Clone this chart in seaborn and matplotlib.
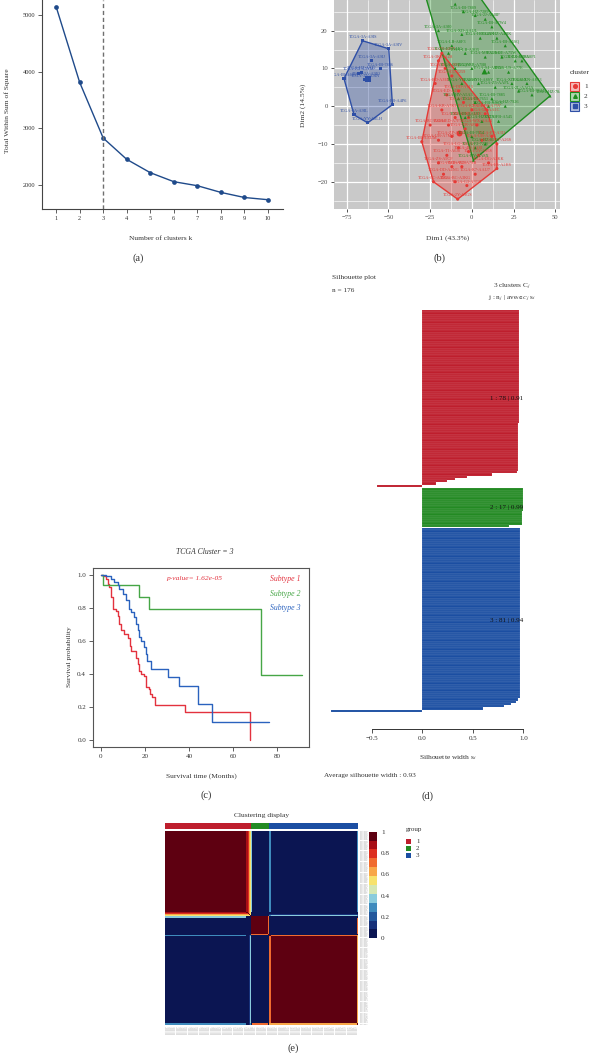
import numpy as np
import pandas as pd
import matplotlib
matplotlib.use("Agg")
import matplotlib.pyplot as plt
import seaborn as sns
from matplotlib.colors import ListedColormap
from matplotlib.patches import Polygon, Rectangle
from matplotlib.lines import Line2D

# ---------------- data ----------------
# (a) elbow
k_values = [1, 2, 3, 4, 5, 6, 7, 8, 9, 10]
wss_values = [5147, 3812, 2829, 2453, 2218, 2059, 1988, 1870, 1780, 1741]

# (b) PCA cluster plot
red_xy = [(-18, 14), (-20, 12), (-16, 10), (-22, 6), (-12, 8), (-8, 4), (-15, 3), (-5, 1),
          (0, -1), (-18, -1), (-10, -3), (-25, -5), (-30, -9.4), (-20, -9), (-12, -8),
          (-4, -6), (3, -5), (8, -2), (9, -1), (12, -8), (15, -10), (15, -16.5), (10, -15),
          (4, -13), (-2, -12), (-8, -11), (-15, -13), (-20, -15), (-23, -20), (-17, -18),
          (-10, -20), (-8.5, -24.6), (-3, -21), (2, -18), (-12, -16), (-6, -16), (6, -9),
          (-2, -3), (-14, -5)]
red_ids = ["TCGA-2Y-A9H1", "TCGA-3K-AAZ8", "TCGA-BC-A10Q", "TCGA-BD-A3EP", "TCGA-CC-5259",
           "TCGA-DD-A113", "TCGA-ED-A459", "TCGA-G3-A25T", "TCGA-K7-A5RF", "TCGA-KR-A7K2",
           "TCGA-MI-A75C", "TCGA-RC-A6M4", "TCGA-IB-AAUM", "TCGA-UB-A7MB", "TCGA-ZP-A9D4",
           "TCGA-XR-A8TE", "TCGA-WX-AA44", "TCGA-5R-AA1C", "TCGA-O8-A75V", "TCGA-FV-A3I1",
           "TCGA-EP-A26S", "TCGA-ES-A2HS", "TCGA-DG-A2KK", "TCGA-2V-A95S", "TCGA-4R-AA8I",
           "TCGA-LG-A6GG", "TCGA-T1-A6J8", "TCGA-ZS-A9CF", "TCGA-CC-A3MA", "TCGA-DD-A4NG",
           "TCGA-BC-A3KG", "TCGA-2Y-A9GS", "TCGA-G3-A3CH", "TCGA-K7-AAU7", "TCGA-MR-A520",
           "TCGA-RC-A7SB", "TCGA-UB-AA0V", "TCGA-XR-A8TC", "TCGA-ED-A7PX"]
green_xy = [(-31, 34), (-3.6, 34), (-10, 27), (-5, 25), (2, 24), (8, 23), (12, 21), (-20, 20),
            (-6, 19), (5, 18), (15, 18), (20, 16), (-14, 14), (-4, 14), (8, 13), (18, 13),
            (26, 12), (-10, 10), (0, 10), (10, 9), (22, 9), (33, 6), (46.8, 2.7), (-6, 6),
            (4, 6), (14, 5), (28, 4), (-8, 2), (2, 1), (10, 0), (20, 0), (-4, -3), (6, -4),
            (16, -4), (0, -8), (8, -10), (0.9, -14.3), (2, -11), (12, 2), (24, 6), (30, 12),
            (36, 3), (-12, 16)]
green_ids = ["TCGA-HZ-7925", "TCGA-HZ-8003", "TCGA-3B-A9HZ", "TCGA-IB-7889", "TCGA-HZ-7289",
             "TCGA-2J-AABP", "TCGA-IB-A7W4", "TCGA-3A-A9J0", "TCGA-XD-AAUL", "TCGA-H6-A45N",
             "TCGA-HZ-A4BK", "TCGA-IB-A5SQ", "TCGA-F2-A44G", "TCGA-LB-A9Q5", "TCGA-M8-A5N4",
             "TCGA-OE-A75W", "TCGA-PZ-A5RE", "TCGA-Q3-A5QY", "TCGA-RB-A7B8", "TCGA-S4-A8RM",
             "TCGA-US-A77E", "TCGA-XN-A8T3", "TCGA-HZ-7846", "TCGA-YB-A89D", "TCGA-YH-A8SY",
             "TCGA-Z5-AAPL", "TCGA-2L-AAQA", "TCGA-HV-A5A3", "TCGA-IB-7651", "TCGA-FB-AAQ1",
             "TCGA-HZ-7926", "TCGA-IB-AAUO", "TCGA-HZ-A77O", "TCGA-FB-A545", "TCGA-IB-7654",
             "TCGA-HZ-8519", "TCGA-HV-AA8X", "TCGA-F2-7276", "TCGA-IB-7885", "TCGA-XD-AAUI",
             "TCGA-HZ-A8P1", "TCGA-IB-7644", "TCGA-LB-A8F3"]
blue_xy = [(-65.4, 17.3), (-49.8, 15.2), (-47.6, 0.4), (-62.4, -4.4), (-70.6, -2.3),
           (-76.6, 7.3), (-68, 8.7), (-63, 7.6), (-64, 7.0), (-66, 9), (-60, 12), (-55, 10)]
blue_ids = ["TCGA-3A-A9IS", "TCGA-3A-A9IV", "TCGA-FB-A4P6", "TCGA-YY-A8LH", "TCGA-3A-A9IL",
            "TCGA-IB-A6UG", "TCGA-FB-A5VM", "TCGA-3A-A9IO", "TCGA-3A-A9IN", "TCGA-HZ-A9TJ",
            "TCGA-3A-A9IJ", "TCGA-IB-7886"]

# (c) Kaplan-Meier curves
km_t1 = [0, 1.1, 2.3, 3.0, 3.8, 4.6, 5.3, 6.9, 7.6, 8.4, 9.1, 10.7, 12.2, 13.0, 13.7, 16.0,
         16.8, 17.5, 18.3, 19.8, 20.3, 21.8, 22.4, 23.3, 24.4, 38.0, 68.0]
km_s1 = [1.0, 0.99, 0.976, 0.945, 0.925, 0.866, 0.79, 0.78, 0.75, 0.70, 0.667, 0.64, 0.616,
         0.57, 0.537, 0.50, 0.46, 0.42, 0.40, 0.39, 0.32, 0.31, 0.28, 0.26, 0.214, 0.172, 0.0]
km_t2 = [0, 1.0, 17.2, 21.8, 72.8, 91.4]
km_s2 = [1.0, 0.939, 0.867, 0.795, 0.397, 0.397]
km_t3 = [0, 2.3, 4.6, 6.1, 7.6, 8.4, 9.9, 11.4, 12.6, 13.7, 15.2, 16.0, 16.8, 17.5, 18.3,
         19.4, 20.3, 21.0, 22.9, 30.5, 35.5, 44.2, 50.3, 76.2]
km_s3 = [1.0, 0.99, 0.976, 0.955, 0.94, 0.915, 0.885, 0.845, 0.79, 0.774, 0.743, 0.70, 0.663,
         0.626, 0.602, 0.566, 0.521, 0.48, 0.43, 0.384, 0.33, 0.22, 0.11, 0.11]

# (d) silhouette widths (run-length: value, count)
sil1_vals = [0.96, 0.955, 0.95, 0.94, 0.69, 0.44, 0.32, 0.24, 0.14, -0.45]
sil1_cnts = [25, 25, 21, 1, 1, 1, 1, 1, 1, 1]
sil2_vals = [0.995, 0.99, 0.86]
sil2_cnts = [10, 6, 1]
sil3_vals = [0.97, 0.965, 0.95, 0.93, 0.88, 0.81, 0.60, -0.90]
sil3_cnts = [40, 35, 1, 1, 1, 1, 1, 1]
sil_labels = ["1 : 78 | 0.91", "2 : 17 | 0.99", "3 : 81 | 0.94"]

# (e) consensus matrix
cluster_sizes = [78, 17, 81]
edge_idx = [74, 75, 76, 77, 78, 94, 95, 175]
edge_c1 = [0.86, 0.76, 0.62, 0.52, 0.35, 0.05, 0.32, 0.30]
edge_c2 = [0.0, 0.0, 0.0, 0.05, 1.0, 0.72, 0.0, 0.72]
edge_c3 = [0.0, 0.0, 0.10, 0.35, 0.0, 0.0, 0.68, 0.62]
sample_ids = ["TCGA-S%03d" % i for i in range(sum(cluster_sizes))]
cb_ticks = [0, 0.2, 0.4, 0.6, 0.8, 1]
cb_ticklabels = ["0", "0.2", "0.4", "0.6", "0.8", "1"]
consensus_colors = ['#0b1552', '#17317a', '#24589c', '#3f8bbd', '#8acbdc', '#d5e7b3',
                    '#f7e26c', '#f8a748', '#f06b2f', '#dc2f1f', '#a80e16', '#5e0011']

# ---------------- style ----------------
sns.set_style("white")
plt.rcParams['font.family'] = ['Liberation Serif', 'DejaVu Serif']
plt.rcParams['mathtext.fontset'] = 'stix'
plt.rcParams['axes.unicode_minus'] = True

W, H = 591, 1053
fig = plt.figure(figsize=(W / 100, H / 100), dpi=100)


def rect(x0, y0, x1, y1):
    return [x0 / W, 1 - y1 / H, (x1 - x0) / W, (y1 - y0) / H]


def ftext(x, y, s, **kw):
    kw.setdefault('ha', 'center')
    kw.setdefault('va', 'center')
    fig.text(x / W, 1 - y / H, s, **kw)


TXT = '#333333'

# ---------------- (a) ----------------
axa = fig.add_axes(rect(42, 0, 283, 209))
sns.lineplot(x=k_values, y=wss_values, ax=axa, color='#1F4A8A', lw=1.0, marker='o',
             markersize=3.4, markeredgewidth=0)
axa.axvline(3, color='#6f6f6f', ls=(0, (3, 2)), lw=1.0)
axa.set_xlim(0.4, 10.64)
axa.set_ylim(1577, 5265)
axa.set_xticks(k_values)
axa.set_yticks([2000, 3000, 4000, 5000])
for s in ['top', 'right']:
    axa.spines[s].set_visible(False)
for s in ['left', 'bottom']:
    axa.spines[s].set_color('#444444')
    axa.spines[s].set_linewidth(0.8)
axa.tick_params(direction='out', length=3, width=0.6, color='#444444', labelsize=4.6,
                labelcolor=TXT, pad=2, bottom=True, left=True)
axa.set_xlabel('')
axa.set_ylabel('')
ftext(7, 111, 'Total Within Sum of Square', rotation=90, fontsize=5.4, color=TXT)
ftext(161, 238, 'Number of clusters k', fontsize=5.4, color=TXT)
ftext(138, 258, '(a)', fontsize=7.5, color=TXT)

# ---------------- (b) ----------------
cl_colors = {'1': '#E53A36', '2': '#1E8C1E', '3': '#2E4FA6'}
axb = fig.add_axes(rect(334, 0, 560, 209))
axb.set_facecolor('#C9C9C9')
YLIM_B = (-27.2, 28.1)
axb.set_xlim(-82.6, 52.8)
axb.set_ylim(*YLIM_B)
axb.set_xticks([-75, -50, -25, 0, 25, 50])
axb.set_yticks([-20, -10, 0, 10, 20])
axb.set_xticks([-62.5, -37.5, -12.5, 12.5, 37.5], minor=True)
axb.set_yticks([-25, -15, -5, 5, 15, 25], minor=True)
axb.grid(which='major', color='white', lw=0.9)
axb.grid(which='minor', color='white', lw=0.45)
axb.set_axisbelow(True)
for s in axb.spines.values():
    s.set_visible(False)
axb.tick_params(which='major', direction='out', length=2.5, width=0.6, color='#333333',
                labelsize=4.8, labelcolor='#4D4D4D', pad=2, bottom=True, left=True)
axb.tick_params(which='minor', length=0)


def hull(points):
    pts = sorted(set(points))
    def cross(o, a, b):
        return (a[0] - o[0]) * (b[1] - o[1]) - (a[1] - o[1]) * (b[0] - o[0])
    lower, upper = [], []
    for p in pts:
        while len(lower) >= 2 and cross(lower[-2], lower[-1], p) <= 0:
            lower.pop()
        lower.append(p)
    for p in reversed(pts):
        while len(upper) >= 2 and cross(upper[-2], upper[-1], p) <= 0:
            upper.pop()
        upper.append(p)
    return lower[:-1] + upper[:-1]


pca_rows = []
for cl, xy, ids in [('1', red_xy, red_ids), ('2', green_xy, green_ids), ('3', blue_xy, blue_ids)]:
    for (x, y), name in zip(xy, ids):
        pca_rows.append({'Dim1': x, 'Dim2': y, 'cluster': cl, 'id': name})
pca = pd.DataFrame(pca_rows)

for cl in ['1', '2', '3']:
    sub = pca[pca.cluster == cl]
    hv = hull(list(zip(sub.Dim1, sub.Dim2)))
    axb.add_patch(Polygon(hv, closed=True, facecolor=cl_colors[cl], alpha=0.35, edgecolor='none', zorder=2))
    axb.add_patch(Polygon(hv, closed=True, facecolor='none', edgecolor=cl_colors[cl], lw=1.0, zorder=3))

sns.scatterplot(data=pca, x='Dim1', y='Dim2', hue='cluster', style='cluster',
                markers={'1': 'o', '2': '^', '3': 's'}, palette=cl_colors, s=5,
                linewidth=0, ax=axb, legend=False, zorder=4)
cent = pca.groupby('cluster')[['Dim1', 'Dim2']].mean()
for cl, mk in zip(['1', '2', '3'], ['o', '^', 's']):
    axb.scatter(cent.loc[cl, 'Dim1'], cent.loc[cl, 'Dim2'], marker=mk, s=18,
                color=cl_colors[cl], zorder=5, linewidth=0)
for _, r in pca.iterrows():
    if r.Dim2 + 2.0 > YLIM_B[1]:
        continue
    axb.text(r.Dim1, r.Dim2 + 0.5, r.id, fontsize=3.1, color=cl_colors[r.cluster],
             ha='center', va='bottom', zorder=6, clip_on=True)
axb.set_xlabel('')
axb.set_ylabel('')
ftext(303, 105, 'Dim2 (14.5%)', rotation=90, fontsize=5.4, color=TXT)
ftext(448, 238, 'Dim1 (43.3%)', fontsize=5.4, color=TXT)
ftext(439, 258, '(b)', fontsize=7.5, color=TXT)
# legend
ftext(570, 72, 'cluster', ha='left', fontsize=5.4, color=TXT)
for i, (cl, mk) in enumerate(zip(['1', '2', '3'], ['o', '^', 's'])):
    yc = 86 + i * 10
    fig.add_artist(Rectangle((570 / W, 1 - (yc + 4.5) / H), 9 / W, 9 / H,
                             transform=fig.transFigure, facecolor=cl_colors[cl], alpha=0.35,
                             edgecolor='none'))
    fig.add_artist(Rectangle((570 / W, 1 - (yc + 4.5) / H), 9 / W, 9 / H,
                             transform=fig.transFigure, facecolor='none',
                             edgecolor=cl_colors[cl], lw=0.8))
    fig.add_artist(Line2D([574.5 / W], [1 - yc / H], marker=mk, color=cl_colors[cl],
                          markersize=2.6, transform=fig.transFigure, lw=0))
    ftext(584, yc, cl, ha='left', fontsize=5.2, color=TXT)

# ---------------- (c) ----------------
km_cols = ['#E3323E', '#46A646', '#2A62BE']
axc = fig.add_axes(rect(93, 568, 309, 747))
for t, s_, c in [(km_t1, km_s1, km_cols[0]), (km_t2, km_s2, km_cols[1]), (km_t3, km_s3, km_cols[2])]:
    sns.lineplot(x=t, y=s_, ax=axc, color=c, lw=1.0, drawstyle='steps-post',
                 estimator=None, sort=False)
axc.set_xlim(-3.6, 94.6)
axc.set_ylim(-0.04, 1.04)
axc.set_xticks([0, 20, 40, 60, 80])
axc.set_yticks([0, 0.2, 0.4, 0.6, 0.8, 1.0])
axc.set_yticklabels(['0.0', '0.2', '0.4', '0.6', '0.8', '1.0'])
for s in axc.spines.values():
    s.set_visible(True)
    s.set_color('#555555')
    s.set_linewidth(0.8)
axc.tick_params(direction='out', length=3, width=0.6, color='#444444', labelsize=5,
                labelcolor=TXT, pad=2, bottom=True, left=True)
axc.set_xlabel('')
axc.set_ylabel('')
axc.text(42.6, 0.976, 'p-value= 1.62e-05', color=km_cols[0], fontsize=5.4, style='italic',
         ha='center', va='center')
for lab, yy, c in zip(['Subtype 1', 'Subtype 2', 'Subtype 3'], [0.976, 0.885, 0.798], km_cols):
    axc.text(90.7, yy, lab, color=c, fontsize=5.6, style='italic', ha='right', va='center')
ftext(205, 552, 'TCGA Cluster = 3', fontsize=5.6, style='italic', color=TXT)
ftext(70, 657, 'Survival probability', rotation=90, fontsize=5.4, color=TXT)
ftext(201, 776, 'Survival time (Months)', fontsize=5.4, color=TXT)
ftext(206, 795, '(c)', fontsize=7.5, color=TXT)

# ---------------- (d) ----------------
sil_cols = ['#BE1E2D', '#238A23', '#1B4EA2']
axd = fig.add_axes(rect(322, 305, 540, 729))
gap = 0.6
start = 0.0
for vals, cnts, col, lab in zip([sil1_vals, sil2_vals, sil3_vals],
                                [sil1_cnts, sil2_cnts, sil3_cnts], sil_cols, sil_labels):
    widths = np.repeat(vals, cnts)
    ypos = start + np.arange(len(widths)) + 0.5
    axd.barh(ypos, widths, height=1.0, color=col, edgecolor=(1, 1, 1, 0.35), lw=0.2)
    axd.text(0.83, start + len(widths) / 2, lab, fontsize=5, color='#111111',
             ha='center', va='center')
    start += len(widths) + gap
axd.set_xlim(-0.993, 1.165)
axd.set_ylim(184.7, -2.2)
for s in ['top', 'right', 'left']:
    axd.spines[s].set_visible(False)
axd.spines['bottom'].set_bounds(-0.5, 1.0)
axd.spines['bottom'].set_color('#333333')
axd.spines['bottom'].set_linewidth(0.7)
axd.set_yticks([])
axd.set_xticks([-0.5, 0, 0.5, 1.0])
axd.set_xticklabels(['\u22120.5', '0.0', '0.5', '1.0'])
axd.tick_params(axis='x', direction='out', length=3, width=0.6, color='#333333',
                labelsize=5, labelcolor=TXT, pad=2, bottom=True)
ftext(332, 277, 'Silhouette plot', ha='left', fontsize=5.4, color=TXT)
ftext(332, 290, 'n = 176', ha='left', fontsize=5.2, color=TXT)
ftext(512, 287, '3 clusters C$_j$', fontsize=5.2, color=TXT)
ftext(512, 299, 'j : n$_j$ | ave$_{i\\in Cj}$ s$_i$', fontsize=5.2, color=TXT)
ftext(448, 758, 'Silhouette width s$_i$', fontsize=5.4, color=TXT)
ftext(324, 776, 'Average silhouette width : 0.93', ha='left', fontsize=5.2, color=TXT)
ftext(427, 796, '(d)', fontsize=7.5, color=TXT)

# ---------------- (e) ----------------
labels = np.repeat([0, 1, 2], cluster_sizes)
M = (labels[:, None] == labels[None, :]).astype(float)
vecs = {k: [a, b, c] for k, a, b, c in zip(edge_idx, edge_c1, edge_c2, edge_c3)}
for k, v in vecs.items():
    row = np.array(v)[labels]
    M[k, :] = row
    M[:, k] = row
for k, v in vecs.items():
    for l, w in vecs.items():
        M[k, l] = min(v[labels[l]], w[labels[k]])
    M[k, k] = 1.0

cmap_e = ListedColormap(consensus_colors)
axe = fig.add_axes(rect(165.3, 830.5, 358.3, 1024.5))
cax = fig.add_axes(rect(369.3, 831.7, 376.7, 938.3))
sns.heatmap(M, ax=axe, cmap=cmap_e, vmin=0, vmax=1, cbar=True, cbar_ax=cax,
            xticklabels=sample_ids, yticklabels=sample_ids)
axe.yaxis.tick_right()
axe.tick_params(axis='both', length=0, labelsize=1.2, labelcolor='#7a7a7a', pad=1)
for t in axe.get_yticklabels():
    t.set_rotation(0)
for t in axe.get_xticklabels():
    t.set_rotation(90)
cax.set_yticks(cb_ticks)
cax.set_yticklabels(cb_ticklabels)
cax.tick_params(length=0, labelsize=5.2, labelcolor=TXT, pad=3)
for s in cax.spines.values():
    s.set_visible(False)

# annotation bar
axan = fig.add_axes(rect(165.3, 823.3, 358.3, 829.0))
sns.heatmap(labels[None, :], ax=axan, cmap=ListedColormap(sil_cols), cbar=False,
            xticklabels=False, yticklabels=False)
ftext(262, 815, 'Clustering display', fontsize=5.4, color=TXT)
ftext(406, 829, 'group', ha='left', fontsize=5.0, color=TXT)
for i, col in enumerate(sil_cols):
    yc = 841.5 + i * 7
    fig.add_artist(Rectangle((406 / W, 1 - (yc + 2.5) / H), 5 / W, 5 / H,
                             transform=fig.transFigure, facecolor=col, edgecolor='none'))
    ftext(416, yc, str(i + 1), ha='left', fontsize=5.0, color=TXT)
ftext(293, 1048, '(e)', fontsize=7.5, color=TXT)

fig.savefig('out.png', dpi=100)
